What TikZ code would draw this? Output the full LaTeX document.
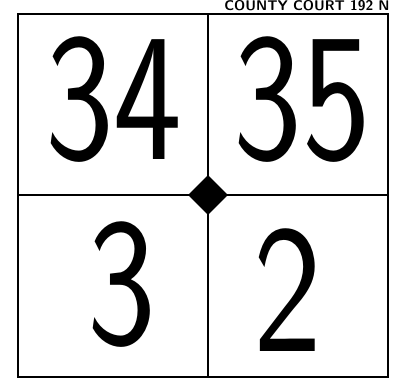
\documentclass[tikz,border=0pt]{standalone}
\usepackage{tikz}
\usetikzlibrary{shapes.geometric}

\begin{document}
\begin{tikzpicture}[
  x=0.02cm, y=-0.02cm,
  frame/.style={draw, line width=1.7pt},
  num/.style={font=\sffamily\fontsize{104}{104}\selectfont, inner sep=0pt,
              xscale=0.8, transform shape},
  pin/.style={diamond, fill=black, minimum size=0.8cm, inner sep=0pt},
  head/.style={font=\sffamily\bfseries\fontsize{8}{8}\selectfont, inner sep=0pt}
]
\useasboundingbox (0,0) rectangle (396,385);
% heading over the frame
\node[head, anchor=base east] (title) at (390,10.5) {COUNTY COURT 192 N};
% outer frame and cross
\coordinate (nw) at (18,14);
\coordinate (se) at (388,377);
\coordinate (top) at (208,14);
\coordinate (bot) at (208,377);
\coordinate (lft) at (18,195);
\coordinate (rgt) at (388,195);
\draw[frame] (nw) rectangle (se);
\draw[frame] (top) -- (bot);
\draw[frame] (lft) -- (rgt);
\node[pin] (mid) at (208,195) {};
% numbers
\node[num] (nA) at (114,100) {34};
\node[num] (nB) at (302,100) {35};
\node[num] (nC) at (122,285) {3};
\node[num] (nD) at (288,290) {2};
\end{tikzpicture}
\end{document}
